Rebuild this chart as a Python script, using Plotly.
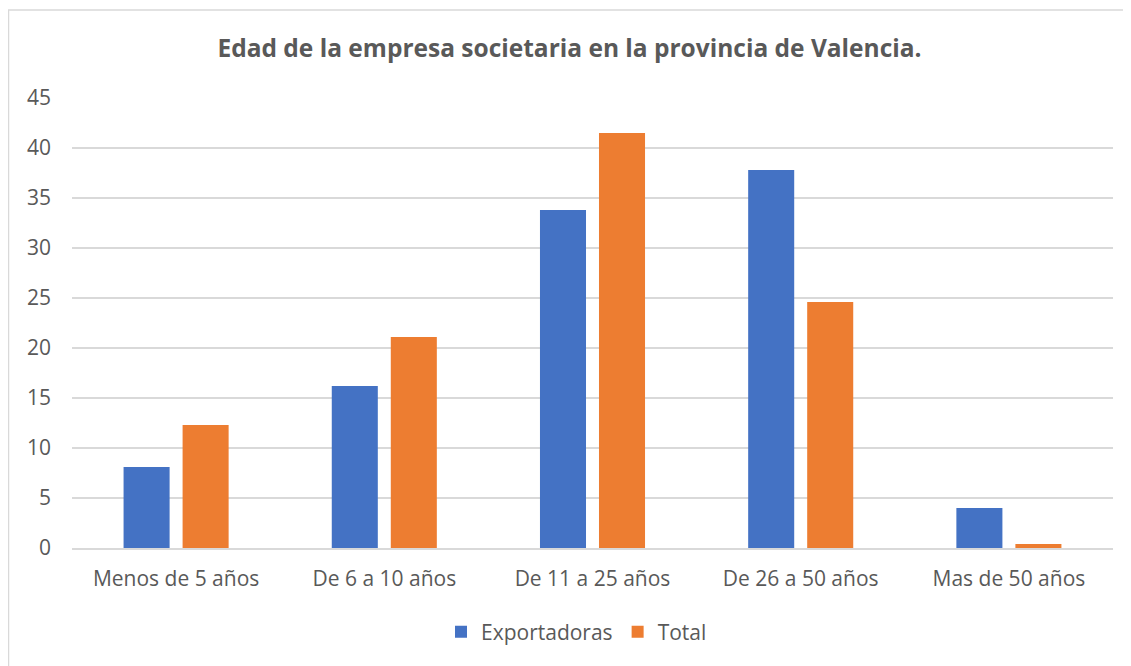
import plotly.graph_objects as go

categories = ["Menos de 5 años", "De 6 a 10 años", "De 11 a 25 años", "De 26 a 50 años", "Mas de 50 años"]
exportadoras = [8.1, 16.2, 33.8, 37.8, 4.0]
total = [12.3, 21.1, 41.5, 24.6, 0.4]
y_ticks = [0, 5, 10, 15, 20, 25, 30, 35, 40, 45]

# page body has an 8px margin, so figure coords = screenshot coords - 8
W, H = 1123, 658
L, R, T, B = 64, 18, 90, 118
pw, ph = W - L - R, H - T - B

def px(x):
    return (x - L) / pw

def py(y):
    return (H - B - y) / ph

FONT = "Open Sans"
GRAY = "#595959"

fig = go.Figure()
fig.add_trace(go.Bar(name="Exportadoras", x=categories, y=exportadoras,
                     marker=dict(color="#4472C4", line=dict(width=0))))
fig.add_trace(go.Bar(name="Total", x=categories, y=total,
                     marker=dict(color="#ED7D31", line=dict(width=0))))

fig.update_layout(
    width=W, height=H,
    margin=dict(l=L, r=R, t=T, b=B),
    paper_bgcolor="white", plot_bgcolor="white",
    barmode="group", bargap=0.433, bargroupgap=0.22,
    title=dict(text="<b>Edad de la empresa societaria en la provincia de Valencia.</b>",
               x=0.5, xanchor="center", y=1 - 40 / H, yanchor="middle",
               font=dict(family=FONT, size=24.5, color=GRAY)),
    font=dict(family=FONT, size=21, color=GRAY),
    xaxis=dict(showgrid=False, showline=True, linecolor="#d9d9d9", linewidth=1.5,
               ticks="", ticklabelstandoff=11, tickfont=dict(size=21, color=GRAY)),
    yaxis=dict(range=[0, 45], tickvals=y_ticks, showgrid=True, gridcolor="#d9d9d9",
               gridwidth=1.5, zeroline=False, showline=False, ticks="",
               ticklabelstandoff=20, tickfont=dict(size=21, color=GRAY)),
    legend=dict(orientation="h", x=0.5 - 16 / pw, xanchor="center", y=py(624), yanchor="middle",
                font=dict(size=21, color=GRAY), traceorder="normal"),
    shapes=[
        dict(type="line", xref="paper", yref="paper", x0=px(0.5), x1=px(0.5), y0=py(2), y1=py(680),
             line=dict(color="#d9d9d9", width=1.5)),
        dict(type="line", xref="paper", yref="paper", x0=px(0), x1=px(1140), y0=py(2), y1=py(2),
             line=dict(color="#d9d9d9", width=1.5)),
    ],
)

fig.write_html("out.html")
